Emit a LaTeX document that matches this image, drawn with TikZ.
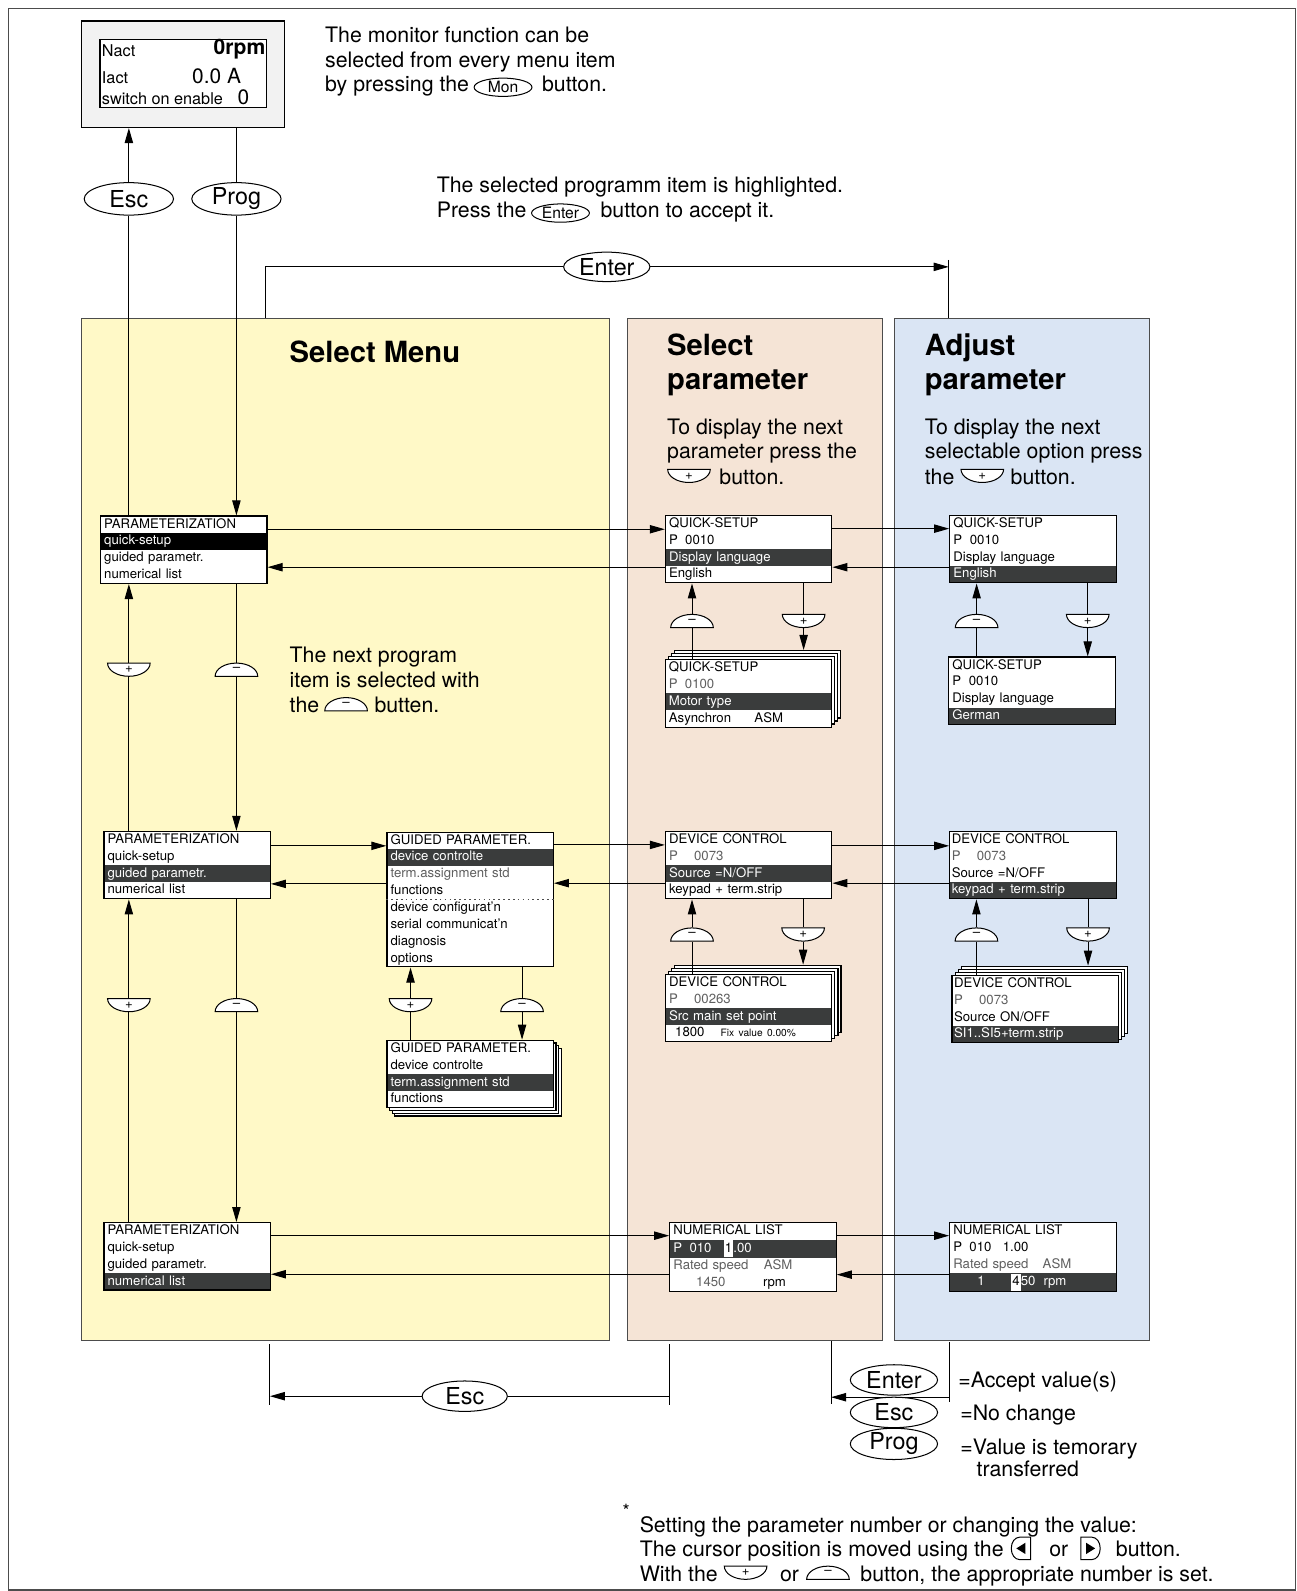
\documentclass[tikz,border=0pt]{standalone}
\usepackage{fontspec}
\setmainfont{TeX Gyre Heros}
\usetikzlibrary{arrows.meta, shapes.geometric, shapes.multipart, positioning}

\definecolor{menuyel}{RGB}{255,249,199}
\definecolor{selpeach}{RGB}{245,228,214}
\definecolor{adjblue}{RGB}{218,229,244}
\definecolor{hl}{RGB}{58,60,60}
\definecolor{dimtxt}{RGB}{95,95,95}

\newcommand{\inv}[1]{\textcolor{white}{#1}}
\newcommand{\grey}[1]{\textcolor{dimtxt}{#1}}
\newcommand{\rs}{\rule[-2.1pt]{0pt}{7.7pt}}
\newcommand{\cursor}[1]{{\setlength{\fboxsep}{0pt}\colorbox{white}{\rule[-2.4pt]{0pt}{8.3pt}\hspace{0.6pt}\textcolor{black}{#1}\hspace{0.6pt}}}}
\newcommand{\lcdrows}[4]{\rs#1\nodepart{two}\rs#2\nodepart{three}\rs#3\nodepart{four}\rs#4}
\newcommand{\lcdfont}{\fontsize{6.5}{7.5}\selectfont}
\newcommand{\bodyfont}{\fontsize{10.5}{12}\selectfont}

\begin{document}
\begin{tikzpicture}[
  x=0.5pt, y=-0.5pt, line width=0.5pt,
  arr/.style={-{Triangle[length=7.4pt,width=4.1pt]}},
  lcd/.style={rectangle split, rectangle split parts=4, rectangle split draw splits=false,
              draw, line width=0.6pt,
              text width=78.4pt, align=left, inner xsep=1.8pt, inner ysep=0pt,
              text height=5.6pt, text depth=2.1pt, font=\lcdfont, anchor=north west},
  sheet/.style={draw, line width=0.6pt, fill=white, minimum width=82pt,
                minimum height=33.2pt, inner sep=0pt, anchor=north west},
  panel/.style={draw=black!70, anchor=north west, inner sep=0pt,
                minimum height=504pt},
  keyoval/.style={draw, ellipse, fill=white, minimum width=43pt, minimum height=15pt,
                  inner sep=0pt, font=\fontsize{11.5}{12}\selectfont},
  minikey/.style={draw, ellipse, fill=white, minimum width=28.5pt, minimum height=9pt,
                  inner sep=0pt, font=\fontsize{7.7}{8}\selectfont},
  note/.style={font=\bodyfont, inner sep=0pt, anchor=west, text height=8.3pt, text depth=0pt},
  paneltitle/.style={font=\fontsize{14.4}{16.5}\selectfont\bfseries, inner sep=0pt,
                     anchor=west, align=left},
  btnsign/.style={minimum width=21pt, minimum height=6.5pt, inner sep=0pt,
                  font=\fontsize{6.5}{6.5}\selectfont},
  plusbtn/.pic={
    \draw[fill=white] (-10.5pt,3.25pt) -- (10.5pt,3.25pt)
      arc[start angle=0, end angle=-180, x radius=10.5pt, y radius=6.5pt] -- cycle;
    \node[btnsign] (-k) {+};
  },
  minusbtn/.pic={
    \draw[fill=white] (-10.5pt,-3.25pt) -- (10.5pt,-3.25pt)
      arc[start angle=0, end angle=180, x radius=10.5pt, y radius=6.5pt] -- cycle;
    \node[btnsign] (-k) {--};
  },
  leftkey/.pic={
    \draw[fill=white] (4pt,5.5pt) -- (-1.5pt,5.5pt)
      arc[start angle=90, end angle=270, x radius=4pt, y radius=5.5pt] -- (4pt,-5.5pt) -- cycle;
    \fill (-3pt,0) -- (1.5pt,2.8pt) -- (1.5pt,-2.8pt) -- cycle;
  },
  rightkey/.pic={
    \draw[fill=white] (-4pt,5.5pt) -- (1.5pt,5.5pt)
      arc[start angle=90, end angle=-90, x radius=4pt, y radius=5.5pt] -- (-4pt,-5.5pt) -- cycle;
    \fill (3pt,0) -- (-1.5pt,2.8pt) -- (-1.5pt,-2.8pt) -- cycle;
  }
]
  \useasboundingbox (0,0) rectangle (1278,1568);
  \draw[black!70] (8,8) rectangle (1277,1567);

  % Monitor display
  \node[draw, line width=0.6pt, fill=black!5, minimum width=100pt, minimum height=52.5pt,
        anchor=north west, inner sep=0pt] (mon) at (80,20) {};
  \node[draw, line width=0.6pt, fill=white, minimum width=82pt, minimum height=33.5pt,
        anchor=north west, inner sep=0pt] (monlcd) at (98,38) {};
  \node[anchor=west, inner sep=0pt, font=\fontsize{8}{9}\selectfont] (nact) at (100,50) {Nact};
  \node[anchor=east, inner sep=0pt, font=\fontsize{10.4}{11}\selectfont\bfseries] (nval) at (262,48) {0rpm};
  \node[anchor=west, inner sep=0pt, font=\fontsize{8}{9}\selectfont] (iact) at (100,77) {Iact};
  \node[anchor=east, inner sep=0pt, font=\fontsize{10.3}{11}\selectfont] (ival) at (238,75) {0.0 A};
  \node[anchor=west, inner sep=0pt, font=\fontsize{8}{9}\selectfont] (swon) at (100,97) {switch on enable};
  \node[inner sep=0pt, font=\fontsize{10.3}{11}\selectfont] (swval) at (240,96) {0};

  \node[note] (mt1) at (320,34) {The monitor function can be};
  \node[note] (mt2) at (320,58) {selected from every menu item};
  \node[note] (mt3) at (320,82) {by pressing the};
  \node[minikey, right=2pt of mt3, yshift=-2pt] (monk) {Mon};
  \node[note, right=4.5pt of mt3.east -| monk.east] (mt4) {button.};

  \node[note] (st1) at (430,181) {The selected programm item is highlighted.};
  \node[note] (st2) at (430,206) {Press the};
  \node[minikey, right=2pt of st2, yshift=-2pt] (entk) {Enter};
  \node[note, right=5pt of st2.east -| entk.east] (st3) {button to accept it.};

  \node[keyoval, minimum width=44pt, minimum height=16pt] (esc1) at (127,196) {Esc};
  \node[keyoval, minimum width=44pt, minimum height=16pt] (prog1) at (233,196) {Prog};

  % Panels
  \node[panel, fill=menuyel, minimum width=260pt] (menu) at (80,313) {};
  \node[panel, fill=selpeach, minimum width=125.5pt] (selp) at (618,313) {};
  \node[panel, fill=adjblue, minimum width=125.5pt] (adjp) at (881,313) {};

  \node[paneltitle] (menut) at (285,347) {Select Menu};
  \node[paneltitle] (selt) at (657,359.5) {Select\\parameter};
  \node[paneltitle] (adjt) at (911,359.5) {Adjust\\parameter};

  \node[note] (sp1) at (657,420) {To display the next};
  \node[note] (sp2) at (657,444) {parameter press the};
  \pic (tpk1) at (679,469) {plusbtn};
  \node[note, right=4pt of tpk1-k] (sp3) {button.};

  \node[note] (ap1t) at (911,420) {To display the next};
  \node[note] (ap2t) at (911,444) {selectable option press};
  \node[note] (ap3t) at (911,469) {the};
  \pic (tpk2) at ([xshift=13.5pt]ap3t.east) {plusbtn};
  \node[note, right=3pt of tpk2-k] (ap4t) {button.};

  \node[note] (yt1) at (285,645) {The next program};
  \node[note] (yt2) at (285,669) {item is selected with};
  \node[note] (yt3) at (285,694) {the};
  \pic (tmk1) at ([xshift=13pt]yt3.east) {minusbtn};
  \node[note, right=3pt of tmk1-k] (yt4) {butten.};

  % Select menu boxes
  \node[lcd, rectangle split part fill={white,black,white}] (p1) at (98.5,508)
    {\lcdrows{PARAMETERIZATION}{\inv{quick-setup}}{guided parametr.}{numerical list}};
  \node[lcd, rectangle split part fill={white,white,hl,white}] (p2) at (101.8,818.8)
    {\lcdrows{PARAMETERIZATION}{quick-setup}{\inv{guided parametr.}}{numerical list}};
  \node[lcd, rectangle split part fill={white,white,white,hl}] (p3) at (101.8,1204.4)
    {\lcdrows{PARAMETERIZATION}{quick-setup}{guided parametr.}{\inv{numerical list}}};

  \node[lcd, rectangle split parts=8, rectangle split part fill={white,hl,white}] (g1) at (380.7,819.5)
    {\rs GUIDED PARAMETER.\nodepart{two}\rs\inv{device controlte}\nodepart{three}\rs\grey{term.assignment std}
     \nodepart{four}\rs functions\nodepart{five}\rs device configurat'n\nodepart{six}\rs serial communicat'n
     \nodepart{seven}\rs diagnosis\nodepart{eight}\rs options};
  \draw[black!70, dash pattern=on 0.8pt off 1.6pt] (g1.four split west) -- (g1.four split east);

  \node[sheet] (g2c) at (388.5,1032.8) {};
  \node[sheet] (g2b) at (385.9,1030.1) {};
  \node[sheet] (g2a) at (383.3,1027.4) {};
  \node[lcd, rectangle split part fill={white,white,hl,white}] (g2) at (380.7,1024.7)
    {\lcdrows{GUIDED PARAMETER.}{device controlte}{\inv{term.assignment std}}{functions}};

  % Select parameter boxes
  \node[lcd, rectangle split part fill={white,white,hl,white}] (qs1) at (655.2,507.4)
    {\lcdrows{QUICK-SETUP}{P\hspace{3.6pt}0010}{\inv{Display language}}{English}};
  \node[sheet] (qs2c) at (664,640.6) {};
  \node[sheet] (qs2b) at (661,643.6) {};
  \node[sheet] (qs2a) at (658,646.6) {};
  \node[lcd, rectangle split part fill={white,white,hl,white}] (qs2) at (655,649.6)
    {\lcdrows{QUICK-SETUP}{\grey{P\hspace{3.6pt}0100}}{\inv{Motor type}}{Asynchron\hspace{11.5pt}ASM}};

  \node[lcd, rectangle split part fill={white,white,hl,white}] (dc1) at (655.2,818.8)
    {\lcdrows{DEVICE CONTROL}{\grey{P\hspace{8pt}0073}}{\inv{Source =N/OFF}}{keypad + term.strip}};
  \node[sheet] (dc2c) at (664.2,950.7) {};
  \node[sheet] (dc2b) at (661.2,953.7) {};
  \node[sheet] (dc2a) at (658.2,956.7) {};
  \node[lcd, rectangle split part fill={white,white,hl,white}] (dc2) at (655.2,959.7)
    {\lcdrows{DEVICE CONTROL}{\grey{P\hspace{8pt}00263}}{\inv{Src main set point}}
     {\hspace{3pt}1800\hspace{8pt}{\fontsize{5}{6}\selectfont Fix value 0.00\%}}};

  \node[lcd, rectangle split part fill={white,hl,white,white}] (nl1) at (659.5,1204.4)
    {\lcdrows{NUMERICAL LIST}{\inv{P\hspace{3.6pt}010\hspace{6pt}}\cursor{1}\inv{.00}}
     {\grey{Rated speed\hspace{7.5pt}ASM}}{\hspace{11.2pt}\grey{1450}\hspace{18.5pt}rpm}};

  % Adjust parameter boxes
  \node[lcd, rectangle split part fill={white,white,white,hl}] (ap1) at (935.4,507.4)
    {\lcdrows{QUICK-SETUP}{P\hspace{3.8pt}0010}{Display language}{\inv{English}}};
  \node[lcd, rectangle split part fill={white,white,white,hl}] (ap2) at (934.4,647)
    {\lcdrows{QUICK-SETUP}{P\hspace{3.8pt}0010}{Display language}{\inv{German}}};

  \node[lcd, inner xsep=1pt, text width=80pt, rectangle split part fill={white,white,white,hl}] (dca1) at (935.4,818.8)
    {\lcdrows{DEVICE CONTROL}{\grey{P\hspace{8pt}0073}}{Source =N/OFF}{\inv{keypad + term.strip}}};
  \node[sheet] (dca2c) at (946.7,951.7) {};
  \node[sheet] (dca2b) at (943.7,954.7) {};
  \node[sheet] (dca2a) at (940.7,957.7) {};
  \node[lcd, inner xsep=1pt, text width=80pt, rectangle split part fill={white,white,white,hl}] (dca2) at (937.7,960.7)
    {\lcdrows{DEVICE CONTROL}{\grey{P\hspace{8pt}0073}}{Source ON/OFF}{\inv{SI1..SI5+term.strip}}};

  \node[lcd, rectangle split part fill={white,white,white,hl}] (nla) at (935.4,1204.4)
    {\lcdrows{NUMERICAL LIST}{P\hspace{3.6pt}010\hspace{5.6pt}1.00}{\grey{Rated speed\hspace{7pt}ASM}}
     {\inv{\hspace{11.8pt}1\hspace{13pt}}\cursor{4}\inv{50\hspace{4pt}rpm}}};

  % +/- keys
  \pic (pA1) at (127,660) {plusbtn};
  \pic (mA1) at (233,660) {minusbtn};
  \pic (pA2) at (127,990.6) {plusbtn};
  \pic (mA2) at (233,990.6) {minusbtn};
  \pic (pG) at (404.6,990.6) {plusbtn};
  \pic (mG) at (514.5,990.6) {minusbtn};
  \pic (mQ) at (682,612) {minusbtn};
  \pic (pQ) at (792,612) {plusbtn};
  \pic (mP) at (962.5,612) {minusbtn};
  \pic (pP) at (1072,612) {plusbtn};
  \pic (mD) at (682,921) {minusbtn};
  \pic (pD) at (791.5,921) {plusbtn};
  \pic (mE) at (962.3,921) {minusbtn};
  \pic (pE) at (1072.3,921) {plusbtn};

  % Monitor links
  \draw (esc1 |- p1.north) -- (esc1);
  \draw[arr] (esc1) -- (esc1 |- mon.south);
  \draw (prog1 |- mon.south) -- (prog1);
  \draw[arr] (prog1) -- (prog1 |- p1.north);

  % Enter across the top
  \node[keyoval, minimum width=42.5pt, minimum height=14.5pt] (enter1) at (598,263) {Enter};
  \coordinate (entfoot) at (262,313);
  \coordinate (entend) at (935,263);
  \coordinate (enttop) at (935,256);
  \draw (entfoot) |- (enter1);
  \draw[arr] (enter1) -- (entend);
  \draw (enttop) -- (enttop |- adjp.north);

  % Up / down in select menu
  \draw (pA1-k |- p2.north) -- (pA1-k);
  \draw[arr] (pA1-k) -- (pA1-k |- p1.south);
  \draw (mA1-k |- p1.south) -- (mA1-k);
  \draw[arr] (mA1-k) -- (mA1-k |- p2.north);
  \draw (pA2-k |- p3.north) -- (pA2-k);
  \draw[arr] (pA2-k) -- (pA2-k |- p2.south);
  \draw (mA2-k |- p2.south) -- (mA2-k);
  \draw[arr] (mA2-k) -- (mA2-k |- p3.north);
  \draw (pG-k |- g2.north) -- (pG-k);
  \draw[arr] (pG-k) -- (pG-k |- g1.south);
  \draw (mG-k |- g1.south) -- (mG-k);
  \draw[arr] (mG-k) -- (mG-k |- g2.north);

  % Up / down in select and adjust parameter
  \draw (mQ-k |- qs2.north) -- (mQ-k);
  \draw[arr] (mQ-k) -- (mQ-k |- qs1.south);
  \draw (pQ-k |- qs1.south) -- (pQ-k);
  \draw[arr] (pQ-k) -- (pQ-k |- qs2c.north);
  \draw (mP-k |- ap2.north) -- (mP-k);
  \draw[arr] (mP-k) -- (mP-k |- ap1.south);
  \draw (pP-k |- ap1.south) -- (pP-k);
  \draw[arr] (pP-k) -- (pP-k |- ap2.north);
  \draw (mD-k |- dc2.north) -- (mD-k);
  \draw[arr] (mD-k) -- (mD-k |- dc1.south);
  \draw (pD-k |- dc1.south) -- (pD-k);
  \draw[arr] (pD-k) -- (pD-k |- dc2c.north);
  \draw (mE-k |- dca2.north) -- (mE-k);
  \draw[arr] (mE-k) -- (mE-k |- dca1.south);
  \draw (pE-k |- dca1.south) -- (pE-k);
  \draw[arr] (pE-k) -- (pE-k |- dca2c.north);

  % Across the columns
  \draw[arr] ([yshift=-6.8pt]p1.north east) coordinate (h1) -- (h1 -| qs1.west);
  \draw[arr] ([yshift=-25.8pt]qs1.north west) coordinate (h2) -- (h2 -| p1.east);
  \draw[arr] ([yshift=-6.8pt]qs1.north east) coordinate (h3) -- (h3 -| ap1.west);
  \draw[arr] ([yshift=-25.8pt]ap1.north west) coordinate (h4) -- (h4 -| qs1.east);
  \draw[arr] ([yshift=-7.4pt]p2.north east) coordinate (h5) -- (h5 -| g1.west);
  \draw[arr] ([yshift=-25.8pt]g1.north west) coordinate (h6) -- (h6 -| p2.east);
  \draw[arr] ([yshift=-6.6pt]g1.north east) coordinate (h7) -- (h7 -| dc1.west);
  \draw[arr] ([yshift=-25.8pt]dc1.north west) coordinate (h8) -- (h8 -| g1.east);
  \draw[arr] ([yshift=-7.4pt]dc1.north east) coordinate (h9) -- (h9 -| dca1.west);
  \draw[arr] ([yshift=-25.8pt]dca1.north west) coordinate (h10) -- (h10 -| dc1.east);
  \draw[arr] ([yshift=-6.7pt]p3.north east) coordinate (h11) -- (h11 -| nl1.west);
  \draw[arr] ([yshift=-25.7pt]nl1.north west) coordinate (h12) -- (h12 -| p3.east);
  \draw[arr] ([yshift=-6.7pt]nl1.north east) coordinate (h13) -- (h13 -| nla.west);
  \draw[arr] ([yshift=-25.9pt]nla.north west) coordinate (h14) -- (h14 -| nl1.east);

  % Esc back to the menu
  \coordinate (bl1) at (266,1325);
  \coordinate (bl2) at (266,1385);
  \coordinate (br1) at (660,1325);
  \coordinate (br2) at (660,1385);
  \draw (bl1) -- (bl2);
  \draw (br1) -- (br2);
  \node[keyoval, minimum width=42pt] (esc2) at (458,1376) {Esc};
  \draw (br1 |- esc2) -- (esc2);
  \draw[arr] (esc2) -- (bl1 |- esc2);

  % Legend
  \coordinate (cl1) at (819,1322);
  \coordinate (cl2) at (819,1384);
  \coordinate (cr1) at (936,1323);
  \coordinate (cr2) at (936,1382);
  \draw (cl1) -- (cl2);
  \draw (cr1) -- (cr2);
  \coordinate (cmid) at (936,1377);
  \draw[arr] (cmid) -- (cmid -| cl1);
  \node[keyoval] (lgenter) at (881,1360) {Enter};
  \node[keyoval] (lgesc) at (881,1392) {Esc};
  \node[keyoval] (lgprog) at (881,1423) {Prog};
  \node[note] (lg1) at (944,1359) {=Accept value(s)};
  \node[note] (lg2) at (946,1392) {=No change};
  \node[note] (lg3) at (946,1425) {=Value is temorary};
  \node[note] (lg4) at (962,1447) {transferred};

  % Footnote
  \node[inner sep=0pt, font=\fontsize{9}{9}\selectfont] (fstar) at (617,1489) {*};
  \node[note] (fn1) at (630,1502) {Setting the parameter number or changing the value:};
  \node[note] (fn2) at (630,1526) {The cursor position is moved using the};
  \pic at ([xshift=9pt]fn2.east) {leftkey};
  \node[note] (fn2b) at ([xshift=22pt]fn2.east) {or};
  \pic at ([xshift=10pt]fn2b.east) {rightkey};
  \node[note] (fn2c) at ([xshift=23pt]fn2b.east) {button.};
  \node[note] (fn3) at (630,1550) {With the};
  \pic (fk1) at ([xshift=13.5pt]fn3.east) {plusbtn};
  \node[note, right=6pt of fk1-k] (fn3b) {or};
  \pic (fk2) at ([xshift=14pt]fn3b.east) {minusbtn};
  \node[note, right=5pt of fk2-k] (fn3c) {button, the appropriate number is set.};
\end{tikzpicture}
\end{document}
